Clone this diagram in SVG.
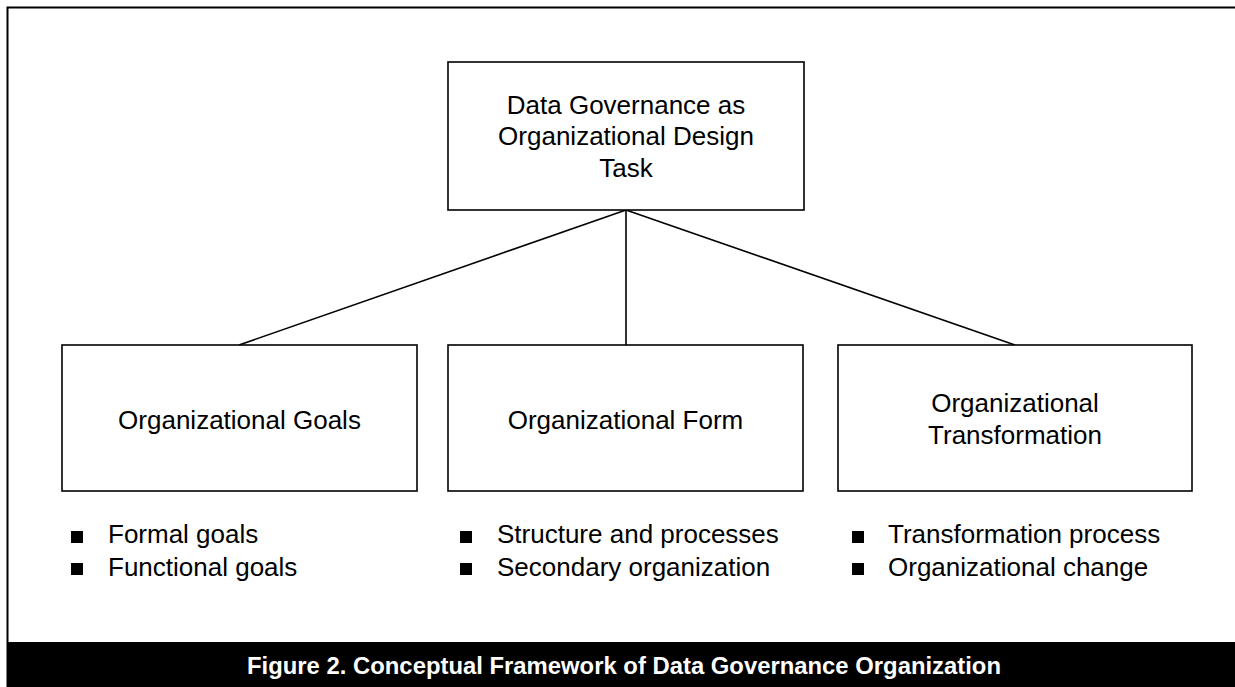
<svg xmlns="http://www.w3.org/2000/svg" width="1235" height="687" viewBox="0 0 1235 687">
<style>
.box{fill:#fff;stroke:#000;stroke-width:1.6}
.t{font-family:"Liberation Sans",Arial,sans-serif;font-size:26px;fill:#000;text-anchor:middle}
.b{font-family:"Liberation Sans",Arial,sans-serif;font-size:26px;fill:#000}
.c{stroke:#000;stroke-width:1.6;fill:none}
</style>
<rect width="1235" height="687" fill="#fff"/>
<path d="M7.5,642 V7.5 H1235" fill="none" stroke="#000" stroke-width="2"/>
<rect x="6.5" y="642" width="1228.5" height="45" fill="#000"/>
<text x="624" y="674" font-family="Liberation Sans,Arial,sans-serif" font-size="24" font-weight="bold" fill="#fff" text-anchor="middle" textLength="754" lengthAdjust="spacingAndGlyphs">Figure 2. Conceptual Framework of Data Governance Organization</text>
<g id="connectors">
<line class="c" x1="626" y1="210" x2="239" y2="345"/>
<line class="c" x1="626" y1="210" x2="626" y2="345"/>
<line class="c" x1="626" y1="210" x2="1015" y2="345"/>
</g>
<g id="top">
<rect class="box" x="448" y="62" width="356" height="148"/>
<text class="t" x="626" y="114">Data Governance as</text>
<text class="t" x="626" y="145">Organizational Design</text>
<text class="t" x="626" y="177">Task</text>
</g>
<g id="goals">
<rect class="box" x="62" y="345" width="355" height="146"/>
<text class="t" x="239.5" y="429">Organizational Goals</text>
<rect x="71" y="531" width="12" height="12"/>
<text class="b" x="108" y="543">Formal goals</text>
<rect x="71" y="563" width="12" height="12"/>
<text class="b" x="108" y="576">Functional goals</text>
</g>
<g id="form">
<rect class="box" x="448" y="345" width="355" height="146"/>
<text class="t" x="625.5" y="429">Organizational Form</text>
<rect x="460" y="531" width="12" height="12"/>
<text class="b" x="497" y="543">Structure and processes</text>
<rect x="460" y="563" width="12" height="12"/>
<text class="b" x="497" y="576">Secondary organization</text>
</g>
<g id="transformation">
<rect class="box" x="838" y="345" width="354" height="146"/>
<text class="t" x="1015" y="412">Organizational</text>
<text class="t" x="1015" y="444">Transformation</text>
<rect x="852" y="531" width="12" height="12"/>
<text class="b" x="888" y="543">Transformation process</text>
<rect x="852" y="563" width="12" height="12"/>
<text class="b" x="888" y="576">Organizational change</text>
</g>
</svg>
